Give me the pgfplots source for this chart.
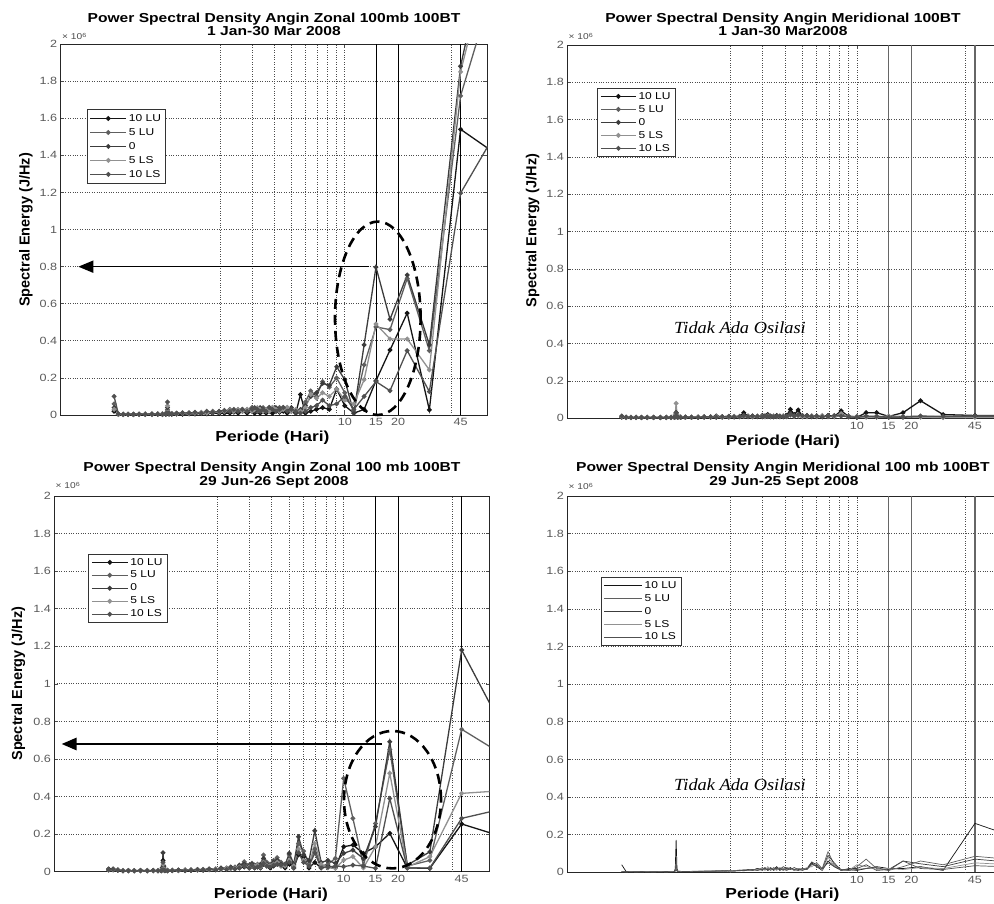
\documentclass[border=0pt]{standalone}
\usepackage{fontspec}
\setmainfont{Liberation Sans}[FakeStretch=1.2]
\newfontfamily\plainsans{Liberation Sans}
\newfontfamily\timesit{Liberation Serif}[FakeStretch=1.08]
\usepackage{pgfplots}
\usepackage{pgfplotstable}
\pgfplotsset{compat=1.18}
\usetikzlibrary{arrows.meta}

\definecolor{cA}{RGB}{20,20,20}
\definecolor{cB}{RGB}{95,95,95}
\definecolor{cC}{RGB}{60,60,60}
\definecolor{cD}{RGB}{145,145,145}
\definecolor{cE}{RGB}{80,80,80}

% Zonal, 1 Jan - 30 Mar 2008 (values x 10^6)
\pgfplotstableread{
p      a     b     c     d     e
90     1.34  2.68  3.20  3.00  1.69
45     1.54  1.72  1.88  1.85  1.196
30     0.027 0.347 0.378 0.243 0.126
22.5   0.549 0.736 0.755 0.410 0.347
18     0.350 0.460 0.516 0.410 0.131
15     0.185 0.475 0.797 0.490 0.180
12.857 0.030 0.270 0.378 0.190 0.100
11.25  0.010 0.020 0.010 0.060 0.030
10     0.050 0.120 0.190 0.080 0.100
9      0.140 0.200 0.260 0.140 0.060
8.182  0.030 0.150 0.160 0.100 0.050
7.5    0.040 0.180 0.170 0.120 0.080
6.923  0.030 0.100 0.120 0.090 0.050
6.429  0.020 0.130 0.100 0.110 0.040
6      0.010 0.070 0.050 0.040 0.020
5.625  0.110 0.020 0.030 0.020 0.010
5.294  0.010 0.020 0.010 0.030 0.020
5      0.020 0.030 0.040 0.020 0.030
4.737  0.010 0.040 0.030 0.040 0.020
4.5    0.020 0.030 0.040 0.030 0.040
4.286  0.015 0.040 0.030 0.020 0.030
4.091  0.020 0.030 0.040 0.030 0.020
3.913  0.010 0.040 0.030 0.040 0.030
3.75   0.020 0.030 0.040 0.020 0.040
3.6    0.010 0.020 0.030 0.030 0.020
3.462  0.020 0.040 0.030 0.020 0.030
3.333  0.010 0.030 0.040 0.030 0.020
3.214  0.020 0.020 0.030 0.040 0.030
3.103  0.010 0.030 0.020 0.030 0.040
3      0.020 0.040 0.030 0.020 0.030
2.813  0.010 0.030 0.020 0.030 0.020
2.647  0.020 0.020 0.030 0.020 0.030
2.5    0.010 0.030 0.020 0.030 0.020
2.368  0.015 0.020 0.025 0.020 0.030
2.25   0.010 0.030 0.020 0.025 0.020
2.093  0.010 0.020 0.015 0.020 0.025
1.957  0.008 0.015 0.020 0.015 0.020
1.8    0.010 0.020 0.010 0.015 0.015
1.667  0.006 0.012 0.015 0.010 0.020
1.552  0.008 0.010 0.012 0.015 0.010
1.429  0.005 0.012 0.008 0.010 0.015
1.324  0.006 0.008 0.012 0.008 0.010
1.216  0.004 0.010 0.006 0.010 0.012
1.125  0.005 0.006 0.010 0.006 0.008
1.059  0.004 0.008 0.006 0.008 0.006
1.023  0.005 0.006 0.008 0.010 0.008
1.011  0.006 0.010 0.012 0.015 0.010
1      0.020 0.030 0.040 0.050 0.070
0.989  0.006 0.008 0.010 0.012 0.010
0.978  0.004 0.006 0.008 0.008 0.006
0.9375 0.003 0.005 0.006 0.005 0.004
0.882  0.004 0.004 0.005 0.006 0.005
0.818  0.003 0.005 0.004 0.004 0.006
0.75   0.004 0.003 0.005 0.005 0.004
0.692  0.003 0.004 0.003 0.004 0.005
0.643  0.002 0.003 0.004 0.003 0.004
0.6    0.003 0.004 0.003 0.004 0.003
0.5625 0.002 0.003 0.004 0.003 0.004
0.529  0.003 0.004 0.005 0.004 0.006
0.5    0.020 0.060 0.040 0.030 0.100
}\tabTL

% Meridional, 1 Jan - 30 Mar 2008
\pgfplotstableread{
p      a     b     c     d     e
90     0.015 0.012 0.010 0.008 0.014
45     0.015 0.012 0.010 0.005 0.012
30     0.020 0.008 0.006 0.004 0.010
22.5   0.094 0.010 0.008 0.006 0.012
18     0.030 0.008 0.006 0.010 0.008
15     0.010 0.006 0.008 0.012 0.006
12.857 0.030 0.010 0.006 0.008 0.010
11.25  0.030 0.008 0.010 0.006 0.012
10     0.005 0.010 0.006 0.008 0.006
9      0.010 0.008 0.012 0.010 0.008
8.182  0.040 0.015 0.020 0.025 0.012
7.5    0.010 0.012 0.008 0.010 0.015
6.923  0.015 0.010 0.012 0.008 0.010
6.429  0.008 0.012 0.010 0.015 0.008
6      0.010 0.008 0.012 0.010 0.012
5.625  0.012 0.010 0.008 0.012 0.010
5.294  0.015 0.012 0.010 0.008 0.012
5      0.010 0.008 0.012 0.010 0.015
4.737  0.045 0.015 0.020 0.012 0.018
4.5    0.020 0.012 0.015 0.010 0.012
4.286  0.048 0.020 0.025 0.015 0.020
4.091  0.015 0.010 0.012 0.008 0.010
3.913  0.012 0.008 0.010 0.012 0.008
3.75   0.010 0.012 0.008 0.010 0.012
3.6    0.015 0.010 0.012 0.008 0.010
3.462  0.012 0.008 0.010 0.012 0.008
3.333  0.010 0.012 0.008 0.010 0.012
3.214  0.020 0.010 0.015 0.012 0.010
3.103  0.012 0.008 0.010 0.008 0.012
3      0.015 0.010 0.012 0.010 0.008
2.813  0.010 0.012 0.008 0.012 0.010
2.647  0.012 0.008 0.010 0.008 0.012
2.5    0.010 0.010 0.012 0.010 0.008
2.368  0.030 0.012 0.010 0.012 0.015
2.25   0.010 0.008 0.010 0.008 0.010
2.093  0.008 0.010 0.008 0.010 0.008
1.957  0.010 0.008 0.006 0.008 0.010
1.8    0.008 0.006 0.008 0.006 0.008
1.667  0.012 0.008 0.006 0.008 0.006
1.552  0.006 0.008 0.006 0.006 0.008
1.429  0.008 0.006 0.008 0.006 0.006
1.324  0.006 0.005 0.006 0.008 0.005
1.216  0.005 0.006 0.005 0.006 0.006
1.125  0.006 0.005 0.006 0.005 0.006
1.059  0.005 0.006 0.005 0.008 0.005
1.023  0.006 0.008 0.006 0.010 0.006
1.011  0.008 0.010 0.008 0.020 0.010
1      0.030 0.020 0.025 0.080 0.030
0.989  0.008 0.010 0.008 0.020 0.010
0.978  0.005 0.006 0.006 0.008 0.006
0.9375 0.004 0.005 0.004 0.005 0.005
0.882  0.005 0.004 0.005 0.004 0.004
0.818  0.004 0.005 0.004 0.005 0.005
0.75   0.005 0.004 0.005 0.004 0.004
0.692  0.004 0.005 0.004 0.005 0.005
0.643  0.004 0.004 0.005 0.004 0.004
0.6    0.005 0.004 0.004 0.005 0.005
0.5625 0.004 0.005 0.004 0.004 0.004
0.529  0.005 0.004 0.005 0.005 0.006
0.5    0.010 0.008 0.006 0.010 0.012
}\tabTR

% Zonal, 29 Jun - 26 Sept 2008
\pgfplotstableread{
p      a     b     c     d     e
90     0.164 0.580 0.630 0.436 0.351
45     0.254 0.758 1.180 0.417 0.284
30     0.018 0.060 0.106 0.080 0.020
22.5   0.020 0.030 0.035 0.025 0.020
18     0.204 0.650 0.692 0.524 0.390
15     0.133 0.257 0.240 0.133 0.018
12.857 0.098 0.035 0.070 0.020 0.030
11.25  0.142 0.284 0.115 0.080 0.035
10     0.133 0.497 0.098 0.062 0.027
9      0.020 0.071 0.045 0.018 0.030
8.182  0.030 0.040 0.060 0.020 0.025
7.5    0.020 0.030 0.050 0.040 0.020
6.923  0.050 0.120 0.218 0.150 0.100
6.429  0.020 0.040 0.060 0.030 0.030
6      0.080 0.110 0.090 0.060 0.050
5.625  0.090 0.150 0.186 0.120 0.100
5.294  0.020 0.030 0.040 0.030 0.020
5      0.040 0.090 0.098 0.060 0.050
4.737  0.020 0.040 0.030 0.030 0.040
4.5    0.030 0.050 0.040 0.030 0.035
4.286  0.040 0.075 0.060 0.050 0.040
4.091  0.030 0.060 0.050 0.040 0.035
3.913  0.020 0.040 0.030 0.030 0.025
3.75   0.030 0.050 0.040 0.035 0.030
3.6    0.040 0.089 0.070 0.050 0.045
3.462  0.020 0.030 0.040 0.025 0.030
3.333  0.025 0.040 0.030 0.035 0.025
3.214  0.020 0.030 0.035 0.030 0.020
3.103  0.030 0.045 0.040 0.030 0.035
3      0.020 0.035 0.030 0.025 0.020
2.813  0.025 0.053 0.040 0.030 0.030
2.647  0.020 0.030 0.035 0.025 0.020
2.5    0.015 0.025 0.020 0.020 0.015
2.368  0.020 0.020 0.025 0.015 0.020
2.25   0.012 0.020 0.015 0.018 0.012
2.093  0.015 0.018 0.020 0.012 0.015
1.957  0.010 0.015 0.012 0.015 0.010
1.8    0.012 0.012 0.015 0.010 0.012
1.667  0.008 0.010 0.012 0.010 0.008
1.552  0.010 0.012 0.010 0.008 0.010
1.429  0.008 0.010 0.008 0.010 0.008
1.324  0.006 0.008 0.010 0.008 0.006
1.216  0.008 0.006 0.008 0.006 0.008
1.125  0.006 0.008 0.006 0.008 0.006
1.059  0.005 0.006 0.008 0.006 0.005
1.023  0.006 0.008 0.006 0.008 0.006
1.011  0.010 0.020 0.030 0.015 0.010
1      0.060 0.030 0.101 0.040 0.050
0.989  0.010 0.015 0.020 0.012 0.010
0.978  0.005 0.006 0.006 0.008 0.005
0.9375 0.005 0.006 0.005 0.006 0.005
0.882  0.006 0.005 0.006 0.005 0.006
0.818  0.005 0.006 0.005 0.006 0.005
0.75   0.006 0.005 0.006 0.005 0.006
0.692  0.005 0.006 0.005 0.006 0.005
0.643  0.006 0.005 0.006 0.005 0.006
0.6    0.005 0.006 0.005 0.006 0.005
0.5625 0.008 0.010 0.008 0.010 0.008
0.529  0.010 0.012 0.015 0.010 0.012
0.5    0.010 0.012 0.015 0.008 0.010
}\tabBL

% Meridional, 29 Jun - 25 Sept 2008
\pgfplotstableread{
p      a     b     c     d     e
90     0.160 0.060 0.045 0.035 0.025
45     0.260 0.085 0.070 0.050 0.035
30     0.010 0.040 0.030 0.020 0.015
22.5   0.030 0.060 0.045 0.025 0.020
18     0.020 0.030 0.060 0.015 0.060
15     0.020 0.010 0.015 0.020 0.010
12.857 0.030 0.020 0.010 0.015 0.025
11.25  0.020 0.070 0.040 0.030 0.020
10     0.010 0.030 0.020 0.040 0.015
9      0.015 0.010 0.020 0.010 0.010
8.182  0.010 0.015 0.010 0.012 0.015
7.5    0.030 0.040 0.050 0.035 0.030
6.923  0.060 0.110 0.090 0.080 0.050
6.429  0.010 0.020 0.015 0.010 0.020
6      0.030 0.050 0.040 0.050 0.030
5.625  0.050 0.040 0.055 0.030 0.045
5.294  0.020 0.015 0.020 0.025 0.015
5      0.015 0.020 0.010 0.015 0.020
4.737  0.020 0.010 0.015 0.020 0.010
4.5    0.010 0.015 0.025 0.010 0.015
4.286  0.025 0.020 0.015 0.020 0.020
4.091  0.015 0.025 0.020 0.015 0.010
3.913  0.020 0.010 0.030 0.020 0.015
3.75   0.010 0.020 0.015 0.025 0.020
3.6    0.030 0.015 0.020 0.010 0.025
3.462  0.015 0.025 0.010 0.020 0.015
3.333  0.020 0.010 0.025 0.015 0.020
3.214  0.010 0.020 0.015 0.030 0.010
3.103  0.025 0.015 0.020 0.010 0.020
3      0.015 0.025 0.010 0.020 0.015
2.813  0.020 0.010 0.020 0.015 0.010
2.647  0.010 0.015 0.010 0.012 0.015
2.5    0.012 0.010 0.015 0.010 0.012
2.368  0.008 0.012 0.010 0.015 0.010
2.25   0.010 0.008 0.012 0.008 0.010
2.093  0.006 0.010 0.008 0.010 0.008
1.957  0.008 0.006 0.010 0.008 0.006
1.8    0.006 0.008 0.006 0.006 0.008
1.667  0.005 0.006 0.008 0.006 0.006
1.552  0.006 0.005 0.006 0.005 0.006
1.429  0.005 0.006 0.005 0.006 0.005
1.324  0.004 0.005 0.006 0.005 0.004
1.216  0.005 0.004 0.005 0.004 0.005
1.125  0.004 0.005 0.004 0.005 0.004
1.059  0.005 0.004 0.005 0.004 0.005
1.023  0.006 0.005 0.004 0.005 0.004
1.011  0.020 0.010 0.008 0.006 0.006
1      0.172 0.060 0.030 0.020 0.015
0.989  0.020 0.010 0.008 0.006 0.006
0.978  0.004 0.004 0.005 0.004 0.004
0.9375 0.003 0.004 0.003 0.004 0.003
0.882  0.004 0.003 0.004 0.003 0.004
0.818  0.003 0.004 0.003 0.004 0.003
0.75   0.003 0.003 0.004 0.003 0.003
0.692  0.004 0.003 0.003 0.004 0.003
0.643  0.003 0.004 0.003 0.003 0.004
0.6    0.003 0.003 0.004 0.003 0.003
0.5625 0.003 0.004 0.003 0.004 0.003
0.529  0.004 0.003 0.003 0.003 0.004
0.5    0.040 0.004 0.003 0.004 0.003
}\tabBR

\begin{document}
\begin{tikzpicture}
\useasboundingbox (0pt,0pt) rectangle (994pt,904pt);

% ---------- top left ----------
\begin{axis}[scale only axis, xmode=log, xmin=0.25, xmax=64, ymin=0, ymax=2,
    xtick={10,15,20,45}, xticklabels={10,15,20,45},
    ytick={0,0.2,0.4,0.6,0.8,1,1.2,1.4,1.6,1.8,2},
    yticklabels={0,0.2,0.4,0.6,0.8,1,1.2,1.4,1.6,1.8,2},
    xminorticks=false, yminorticks=false, ymajorgrids=true,
    major grid style={black!70, dotted, line width=0.7pt},
    extra x ticks={2,3,4,5,6,7,8,9,10,40}, extra x tick labels={},
    extra x tick style={grid=major, major tick length=0pt},
    tick align=inside, major tick length=3.5pt,
    tick style={black!70, line width=0.6pt},
    axis line style={black!85, line width=0.9pt},
    ticklabel style={font=\fontsize{10.5}{10.5}\selectfont, text=black!65},
    legend cell align=left,
    legend style={draw=black!80, line width=0.8pt, fill=white,
      font=\fontsize{10}{11}\selectfont, inner xsep=2.5pt, inner ysep=3pt, row sep=1.5pt,
      at={(0.061,0.825)}, anchor=north west},
    legend image code/.code={\draw[mark repeat=2,mark phase=2,#1] plot coordinates {(0pt,0pt) (18pt,0pt) (36pt,0pt)};},
    at={(60.7pt,489pt)}, anchor=south west, width=427pt, height=371pt]
  \draw[black, line width=0.7pt] (axis cs:15,0) -- (axis cs:15,2);
  \draw[black, line width=0.7pt] (axis cs:20,0) -- (axis cs:20,2);
  \draw[black, line width=0.7pt] (axis cs:45,0) -- (axis cs:45,2);
  \addplot[cA, line width=1.3pt, mark=*, mark size=1.7pt] table[x=p, y=a] {\tabTL};
  \addlegendentry{10 LU}
  \addplot[cB, line width=1.3pt, mark=*, mark size=1.7pt] table[x=p, y=b] {\tabTL};
  \addlegendentry{5 LU}
  \addplot[cC, line width=1.3pt, mark=*, mark size=1.7pt] table[x=p, y=c] {\tabTL};
  \addlegendentry{0}
  \addplot[cD, line width=1.3pt, mark=*, mark size=1.7pt] table[x=p, y=d] {\tabTL};
  \addlegendentry{5 LS}
  \addplot[cE, line width=1.3pt, mark=*, mark size=1.7pt] table[x=p, y=e] {\tabTL};
  \addlegendentry{10 LS}
\end{axis}

% ---------- top right ----------
\begin{axis}[scale only axis, xmode=log, xmin=0.25, xmax=64, ymin=0, ymax=2,
    xtick={10,15,20,45}, xticklabels={10,15,20,45},
    ytick={0,0.2,0.4,0.6,0.8,1,1.2,1.4,1.6,1.8,2},
    yticklabels={0,0.2,0.4,0.6,0.8,1,1.2,1.4,1.6,1.8,2},
    xminorticks=false, yminorticks=false, ymajorgrids=true,
    major grid style={black!70, dotted, line width=0.7pt},
    extra x ticks={2,3,4,5,6,7,8,9,10,40}, extra x tick labels={},
    extra x tick style={grid=major, major tick length=0pt},
    tick align=inside, major tick length=3.5pt,
    tick style={black!70, line width=0.6pt},
    axis line style={black!85, line width=0.9pt},
    ticklabel style={font=\fontsize{10.5}{10.5}\selectfont, text=black!65},
    legend cell align=left,
    legend style={draw=black!80, line width=0.8pt, fill=white,
      font=\fontsize{10}{11}\selectfont, inner xsep=2.5pt, inner ysep=1.5pt, row sep=0.5pt,
      at={(0.069,0.884)}, anchor=north west},
    legend image code/.code={\draw[mark repeat=2,mark phase=2,#1] plot coordinates {(0pt,0pt) (17.5pt,0pt) (35pt,0pt)};},
    at={(567.3pt,485.7pt)}, anchor=south west, width=435.3pt, height=373.3pt]
  \draw[black!60, line width=1.1pt] (axis cs:15,0) -- (axis cs:15,2);
  \draw[black!60, line width=1.1pt] (axis cs:20,0) -- (axis cs:20,2);
  \draw[black!60, line width=1.1pt] (axis cs:45,0) -- (axis cs:45,2);
  \addplot[cA, line width=1.3pt, mark=*, mark size=1.7pt] table[x=p, y=a] {\tabTR};
  \addlegendentry{10 LU}
  \addplot[cB, line width=1.3pt, mark=*, mark size=1.7pt] table[x=p, y=b] {\tabTR};
  \addlegendentry{5 LU}
  \addplot[cC, line width=1.3pt, mark=*, mark size=1.7pt] table[x=p, y=c] {\tabTR};
  \addlegendentry{0}
  \addplot[cD, line width=1.3pt, mark=*, mark size=1.7pt] table[x=p, y=d] {\tabTR};
  \addlegendentry{5 LS}
  \addplot[cE, line width=1.3pt, mark=*, mark size=1.7pt] table[x=p, y=e] {\tabTR};
  \addlegendentry{10 LS}
\end{axis}

% ---------- bottom left ----------
\begin{axis}[scale only axis, xmode=log, xmin=0.25, xmax=64, ymin=0, ymax=2,
    xtick={10,15,20,45}, xticklabels={10,15,20,45},
    ytick={0,0.2,0.4,0.6,0.8,1,1.2,1.4,1.6,1.8,2},
    yticklabels={0,0.2,0.4,0.6,0.8,1,1.2,1.4,1.6,1.8,2},
    xminorticks=false, yminorticks=false, ymajorgrids=true,
    major grid style={black!70, dotted, line width=0.7pt},
    extra x ticks={2,3,4,5,6,7,8,9,10,40}, extra x tick labels={},
    extra x tick style={grid=major, major tick length=0pt},
    tick align=inside, major tick length=3.5pt,
    tick style={black!70, line width=0.6pt},
    axis line style={black!85, line width=0.9pt},
    ticklabel style={font=\fontsize{10.5}{10.5}\selectfont, text=black!65},
    legend cell align=left,
    legend style={draw=black!80, line width=0.8pt, fill=white,
      font=\fontsize{10}{11}\selectfont, inner xsep=2.5pt, inner ysep=1.5pt, row sep=0.5pt,
      at={(0.078,0.845)}, anchor=north west},
    legend image code/.code={\draw[mark repeat=2,mark phase=2,#1] plot coordinates {(0pt,0pt) (18pt,0pt) (36pt,0pt)};},
    at={(54.3pt,32.3pt)}, anchor=south west, width=435pt, height=375.7pt]
  \draw[black, line width=0.7pt] (axis cs:15,0) -- (axis cs:15,2);
  \draw[black, line width=0.7pt] (axis cs:20,0) -- (axis cs:20,2);
  \draw[black, line width=0.7pt] (axis cs:45,0) -- (axis cs:45,2);
  \addplot[cA, line width=1.3pt, mark=*, mark size=1.7pt] table[x=p, y=a] {\tabBL};
  \addlegendentry{10 LU}
  \addplot[cB, line width=1.3pt, mark=*, mark size=1.7pt] table[x=p, y=b] {\tabBL};
  \addlegendentry{5 LU}
  \addplot[cC, line width=1.3pt, mark=*, mark size=1.7pt] table[x=p, y=c] {\tabBL};
  \addlegendentry{0}
  \addplot[cD, line width=1.3pt, mark=*, mark size=1.7pt] table[x=p, y=d] {\tabBL};
  \addlegendentry{5 LS}
  \addplot[cE, line width=1.3pt, mark=*, mark size=1.7pt] table[x=p, y=e] {\tabBL};
  \addlegendentry{10 LS}
\end{axis}

% ---------- bottom right ----------
\begin{axis}[scale only axis, xmode=log, xmin=0.25, xmax=64, ymin=0, ymax=2,
    xtick={10,15,20,45}, xticklabels={10,15,20,45},
    ytick={0,0.2,0.4,0.6,0.8,1,1.2,1.4,1.6,1.8,2},
    yticklabels={0,0.2,0.4,0.6,0.8,1,1.2,1.4,1.6,1.8,2},
    xminorticks=false, yminorticks=false, ymajorgrids=true,
    major grid style={black!70, dotted, line width=0.7pt},
    extra x ticks={2,3,4,5,6,7,8,9,10,40}, extra x tick labels={},
    extra x tick style={grid=major, major tick length=0pt},
    tick align=inside, major tick length=3.5pt,
    tick style={black!70, line width=0.6pt},
    axis line style={black!85, line width=0.9pt},
    ticklabel style={font=\fontsize{10.5}{10.5}\selectfont, text=black!65},
    legend cell align=left,
    legend style={draw=black!80, line width=0.8pt, fill=white,
      font=\fontsize{10}{11}\selectfont, inner xsep=2.5pt, inner ysep=1.5pt, row sep=0.5pt,
      at={(0.0774,0.784)}, anchor=north west},
    legend image code/.code={\draw[#1] (0pt,0pt) -- (38pt,0pt);},
    at={(567.3pt,31.7pt)}, anchor=south west, width=435.3pt, height=376.3pt]
  \draw[black!60, line width=1.1pt] (axis cs:15,0) -- (axis cs:15,2);
  \draw[black!60, line width=1.1pt] (axis cs:20,0) -- (axis cs:20,2);
  \draw[black!60, line width=1.1pt] (axis cs:45,0) -- (axis cs:45,2);
  \addplot[cA, line width=0.7pt] table[x=p, y=a] {\tabBR};
  \addlegendentry{10 LU}
  \addplot[cB, line width=0.7pt] table[x=p, y=b] {\tabBR};
  \addlegendentry{5 LU}
  \addplot[cC, line width=0.7pt] table[x=p, y=c] {\tabBR};
  \addlegendentry{0}
  \addplot[cD, line width=0.7pt] table[x=p, y=d] {\tabBR};
  \addlegendentry{5 LS}
  \addplot[cE, line width=0.7pt] table[x=p, y=e] {\tabBR};
  \addlegendentry{10 LS}
\end{axis}

% ---------- x 10^6 multipliers ----------
\begin{scope}[every node/.style={anchor=base west, inner sep=0pt, font=\fontsize{8.5}{8.5}\selectfont, text=black!70}]
  \node at (62pt,864pt) {× 10\textsuperscript{6}};
  \node at (568.5pt,864pt) {× 10\textsuperscript{6}};
  \node at (55.5pt,415pt) {× 10\textsuperscript{6}};
  \node at (568.5pt,414pt) {× 10\textsuperscript{6}};
\end{scope}

% ---------- titles ----------
\begin{scope}[every node/.style={anchor=base, inner sep=0pt, font=\bfseries\fontsize{13}{13}\selectfont}]
  \node at (274pt,881.5pt) {Power Spectral Density Angin Zonal 100mb 100BT};
  \node at (274pt,868pt) {1 Jan-30 Mar 2008};
  \node at (783pt,881.5pt) {Power Spectral Density Angin Meridional 100BT};
  \node at (783pt,868pt) {1 Jan-30 Mar2008};
  \node at (272pt,432.3pt) {Power Spectral Density Angin Zonal 100 mb 100BT};
  \node at (274pt,418pt) {29 Jun-26 Sept 2008};
  \node at (783pt,432.3pt) {Power Spectral Density Angin Meridional 100 mb 100BT};
  \node at (784pt,418pt) {29 Jun-25 Sept 2008};
\end{scope}

% ---------- axis labels ----------
\begin{scope}[every node/.style={anchor=base, inner sep=0pt, font=\bfseries\fontsize{14.5}{14.5}\selectfont}]
  \node at (272.5pt,462.3pt) {Periode (Hari)};
  \node at (783pt,458pt) {Periode (Hari)};
  \node at (271pt,5.7pt) {Periode (Hari)};
  \node at (782.5pt,5.7pt) {Periode (Hari)};
\end{scope}
\begin{scope}[every node/.style={rotate=90, inner sep=0pt, font=\plainsans\bfseries\fontsize{14.5}{14.5}\selectfont}]
  \node at (26pt,674pt) {Spectral Energy (J/Hz)};
  \node at (532.7pt,673.5pt) {Spectral Energy (J/Hz)};
  \node at (18.3pt,220.3pt) {Spectral Energy (J/Hz)};
\end{scope}

% ---------- annotations ----------
\draw[line width=1.6pt, -{Triangle[length=15pt, width=12pt]}] (369.3pt,637.3pt) -- (78.3pt,637.3pt);
\draw[line width=2.6pt, dash pattern=on 10pt off 6pt] (377.8pt,585.7pt) ellipse [x radius=42.8pt, y radius=96.7pt];
\draw[line width=1.6pt, -{Triangle[length=15pt, width=12.5pt]}] (381.7pt,160pt) -- (61.7pt,160pt);
\draw[line width=2.6pt, dash pattern=on 10pt off 6pt] (392.5pt,104.3pt) ellipse [x radius=48.5pt, y radius=68.7pt];

\node[font=\timesit\itshape\fontsize{17}{17}\selectfont] at (740pt,576.3pt) {Tidak Ada Osilasi};
\node[font=\timesit\itshape\fontsize{17}{17}\selectfont] at (740pt,119.7pt) {Tidak Ada Osilasi};
\end{tikzpicture}
\end{document}
